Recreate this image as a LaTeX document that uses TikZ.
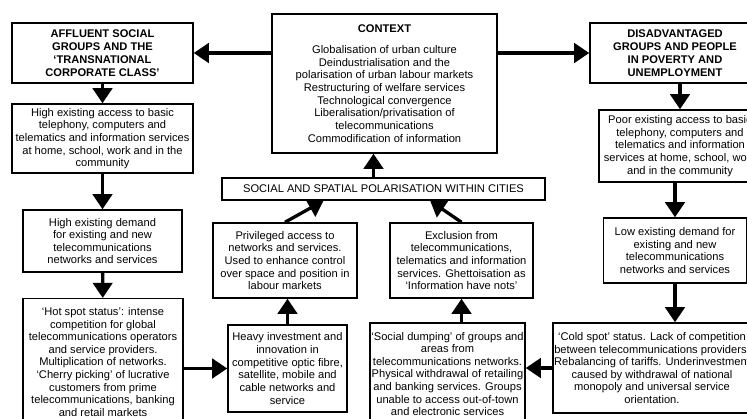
\documentclass[tikz,border=0pt]{standalone}
\usepackage{fontspec}
\setmainfont{Liberation Sans}
\usetikzlibrary{arrows.meta}
\tikzset{
  box/.style={draw,line width=1.3pt,align=center,inner sep=1pt,
    font=\fontsize{9.5}{10.8}\selectfont},
  hd/.style={box,font=\fontsize{9.5}{11.2}\selectfont\bfseries},
  arr/.style={line width=2.8pt,-{Triangle[length=0.45cm,width=0.58cm]}}
}
\begin{document}
\begin{tikzpicture}[x=0.03cm,y=-0.03cm]
\useasboundingbox (0,0) rectangle (747,419);
% left column
\node at (102.5,53) [hd,minimum width=5.43cm,minimum height=1.8cm] (affl) {AFFLUENT SOCIAL\\GROUPS AND THE\\`TRANSNATIONAL\\CORPORATE CLASS'};
\node at (102.5,138.5) [box,minimum width=5.43cm,minimum height=2.07cm] (acc) {High existing access to basic\\telephony, computers and\\telematics and information services\\at home, school, work and in the\\community};
\node at (102.5,241) [box,minimum width=4.77cm,minimum height=1.86cm] (dem) {High existing demand\\for existing and new\\telecommunications\\networks and services};
\node at (103,362) [box,minimum width=4.8cm,minimum height=3.8cm] (hot) {`Hot spot status': intense\\competition for global\\telecommunications operators\\and service providers.\\Multiplication of networks.\\`Cherry picking' of lucrative\\customers from prime\\telecommunications, banking\\and retail markets};
% middle
\node at (384.5,83.5) [box,minimum width=6.75cm,minimum height=4.17cm] (ctx) {\textbf{CONTEXT}\\[7pt]Globalisation of urban culture\\Deindustrialisation and the\\polarisation of urban labour markets\\Restructuring of welfare services\\Technological convergence\\Liberalisation/privatisation of\\telecommunications\\Commodification of information};
\node at (383.5,189) [box,minimum width=9.69cm,minimum height=0.66cm] (pol) {SOCIAL AND SPATIAL POLARISATION WITHIN CITIES};
\node at (285,260.5) [box,minimum width=4.32cm,minimum height=2.25cm] (priv) {Privileged access to\\networks and services.\\Used to enhance control\\over space and position in\\labour markets};
\node at (461.5,260.5) [box,minimum width=4.29cm,minimum height=2.25cm] (excl) {Exclusion from\\telecommunications,\\telematics and information\\services. Ghettoisation as\\`Information have nots'};
\node at (287.5,368.5) [box,minimum width=3.57cm,minimum height=2.61cm] (heavy) {Heavy investment and\\innovation in\\competitive optic fibre,\\satellite, mobile and\\cable networks and\\service};
\node at (447.5,374) [box,minimum width=4.65cm,minimum height=3.06cm] (dump) {`Social dumping' of groups and\\areas from\\telecommunications networks.\\Physical withdrawal of retailing\\and banking services. Groups\\unable to access out-of-town\\and electronic services};
% right column
\node at (675,53) [hd,minimum width=5.1cm,minimum height=1.8cm] (dis) {DISADVANTAGED\\GROUPS AND PEOPLE\\IN POVERTY AND\\UNEMPLOYMENT};
\node at (680,146) [box,minimum width=4.86cm,minimum height=2.16cm] (poor) {Poor existing access to basic\\telephony, computers and\\telematics and information\\services at home, school, work\\and in the community};
\node at (675,250.5) [box,minimum width=4.29cm,minimum height=1.95cm] (low) {Low existing demand for\\existing and new\\telecommunications\\networks and services};
\node at (652,368) [box,minimum width=5.94cm,minimum height=2.7cm] (cold) {`Cold spot' status. Lack of competition\\between telecommunications providers.\\Rebalancing of tariffs. Underinvestment\\caused by withdrawal of national\\monopoly and universal service\\orientation.};
% arrows
\draw[arr] (ctx.west |- affl) -- (affl.east);
\draw[arr] (ctx.east |- dis) -- (dis.west);
\draw[arr] (affl) -- (acc);
\draw[arr] (acc) -- (dem);
\draw[arr] (dem) -- (hot);
\draw[arr] (hot.east |- heavy) -- (heavy.west);
\draw[arr] (heavy.north) -- (heavy.north |- priv.south);
\draw[arr] (priv.north) -- ([xshift=-1.8cm]pol.south);
\draw[arr] (excl.north) -- ([xshift=1.4cm]pol.south);
\draw[arr] (excl.south |- dump.north) -- (excl.south);
\draw[arr] ([xshift=-0.3cm]pol.north) -- ([xshift=-0.3cm]pol.north |- ctx.south);
\draw[arr] (dis.south -| poor.north) -- (poor.north);
\draw[arr] (poor.south -| low.north) -- (low.north);
\draw[arr] (low.south) -- (low.south |- cold.north);
\draw[arr] (cold.west) -- (cold.west -| dump.east);
\end{tikzpicture}
\end{document}
